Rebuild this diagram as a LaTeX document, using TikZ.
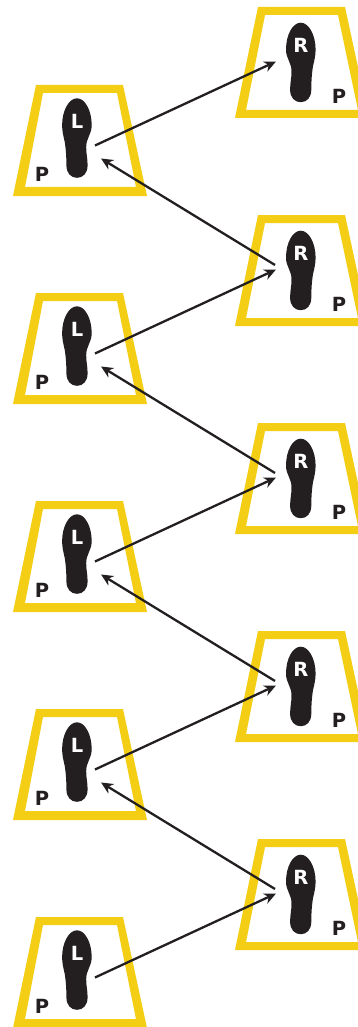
\documentclass[tikz,border=0pt]{standalone}
\usepackage{fontspec}
\setmainfont{DejaVu Sans}
\usetikzlibrary{arrows.meta}
\definecolor{padyellow}{HTML}{F4CE14}
\definecolor{footblack}{HTML}{231F20}
\tikzset{
  x=1pt,y=-1pt,
  padfill/.style={fill=padyellow,even odd rule},
  footfill/.style={fill=footblack},
  letterw/.style={font=\fontsize{19.5}{19.5}\selectfont\bfseries,text=white,inner sep=0pt},
  letterp/.style={font=\fontsize{19.5}{19.5}\selectfont\bfseries,text=footblack,inner sep=0pt},
  conn/.style={draw=footblack,line width=2.3pt,-{Stealth[length=12pt,width=11pt]},shorten >=0pt,shorten <=0pt},
  pics/footshape/.style={code={
    \path[footfill] (0,0)
      .. controls (8,0) and (14.7,12) .. (14.7,27)
      .. controls (14.7,36) and (9,40) .. (9.2,49)
      .. controls (9.2,56) and (10.6,60) .. (10.6,67)
      .. controls (10.6,75) and (6,79.5) .. (0,79.5)
      .. controls (-6,79.5) and (-10.6,75) .. (-10.6,67)
      .. controls (-10.6,58) and (-11,52) .. (-12.2,44)
      .. controls (-13.5,38) and (-14.9,33) .. (-14.9,27)
      .. controls (-14.9,12) and (-8,0) .. (0,0) -- cycle;
  }}
}
\begin{document}
\begin{tikzpicture}
\useasboundingbox (0,0) rectangle (358,1027);
\fill[white] (0,0) rectangle (358,1027);
% left pads
\foreach \i/\d in {1/0,2/208,3/416,4/624,5/832}{
  \begin{scope}[yshift=-\d pt]
    \path[padfill] (36,85) -- (123,85) -- (147,196) -- (13,196) -- cycle
                   (43,93) -- (117,93) -- (136,187) -- (25,187) -- cycle;
    \pic at (77,98.3) {footshape};
    \node[letterw] (footL\i) at (77,121) {L};
    \node[letterp] (padL\i) at (42,174) {P};
    \coordinate (fromL\i) at (95,145.5);
    \coordinate (toL\i) at (101,158.5);
  \end{scope}
}
% right pads
\foreach \i/\d in {1/0,2/208,3/416,4/624,5/832}{
  \begin{scope}[yshift=-\d pt]
    \path[padfill] (258,7) -- (345,7) -- (369,118) -- (235,118) -- cycle
                   (265,15) -- (338,15) -- (358,110) -- (246,110) -- cycle;
    \pic[xscale=-1] at (300.7,22.7) {footshape};
    \node[letterw] (footR\i) at (301,45) {R};
    \node[letterp] (padR\i) at (339,96) {P};
    \coordinate (fromR\i) at (275,265);
    \coordinate (toR\i) at (276,61.5);
  \end{scope}
}
\foreach \i in {1,...,5}{ \draw[conn] (fromL\i) -- (toR\i); }
\foreach \i in {1,...,4}{ \draw[conn] (fromR\i) -- (toL\i); }
\end{tikzpicture}
\end{document}
